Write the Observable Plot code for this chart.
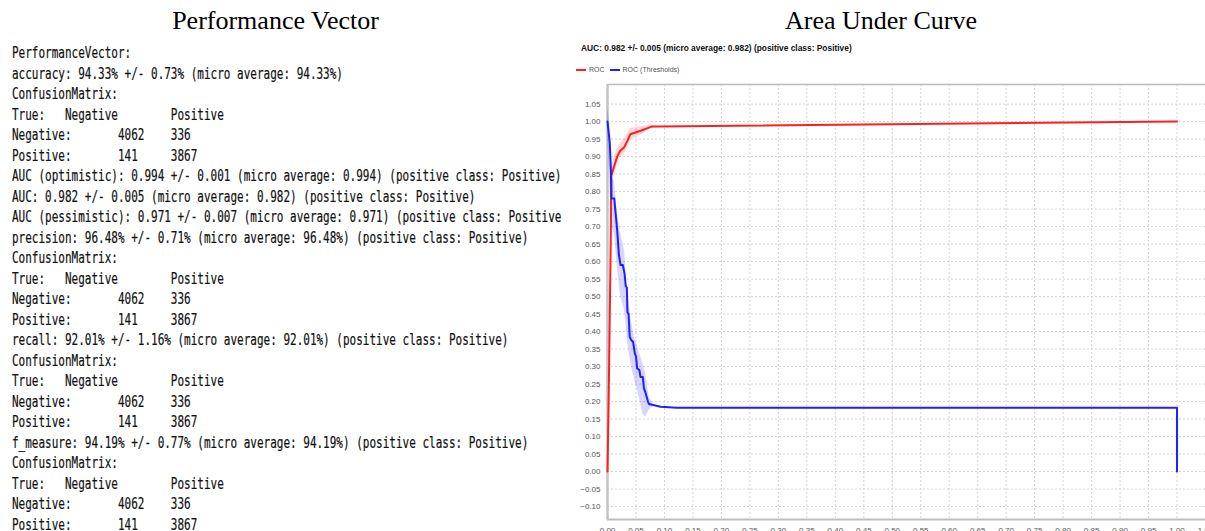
<!DOCTYPE html>
<html><head><meta charset="utf-8">
<script src="https://cdn.jsdelivr.net/npm/d3@7"></script>
<script src="https://cdn.jsdelivr.net/npm/@observablehq/plot@0.6"></script>
<style>
html,body{margin:0;padding:0;background:#fff;overflow:hidden;}
#root{position:relative;width:1205px;height:531px;overflow:hidden;background:#fff;}
.title{position:absolute;top:8px;font-family:"Liberation Serif","Times New Roman",serif;font-size:26px;line-height:26px;color:#000;white-space:nowrap;transform:translateX(-50%);z-index:2;}
#perf{position:absolute;left:12px;top:43px;width:550px;height:488px;overflow:hidden;z-index:2;}
#perf pre{margin:0;font-family:"DejaVu Sans Mono",monospace;font-size:15px;line-height:20.5px;transform:scaleX(0.733);transform-origin:0 0;color:#111;-webkit-text-stroke:0.2px #111;}
#chart{position:absolute;left:570px;top:0;z-index:1;}
#auchead{position:absolute;left:581px;top:44px;font:bold 8.4px "Liberation Sans",Arial,sans-serif;line-height:9px;color:#111;white-space:nowrap;z-index:2;}
#legend{position:absolute;left:576px;top:66px;font:7px "Liberation Sans",Arial,sans-serif;line-height:8px;color:#555;white-space:nowrap;display:flex;align-items:center;z-index:2;}
#legend .sw{display:inline-block;width:10px;height:2px;margin-right:3px;}
#legend .item{display:flex;align-items:center;margin-right:5px;}
</style>
</head><body>
<div id="root">
  <div id="chart"></div>
  <div class="title" style="left:275.5px">Performance Vector</div>
  <div class="title" style="left:881px">Area Under Curve</div>
  <div id="perf"><pre id="perftext"></pre></div>
  <div id="auchead"></div>
  <div id="legend"></div>
</div>
<script>
// ---- Text panel ----
const perfLines = [
  "PerformanceVector:",
  "accuracy: 94.33% +/- 0.73% (micro average: 94.33%)",
  "ConfusionMatrix:",
  "True:   Negative        Positive",
  "Negative:       4062    336",
  "Positive:       141     3867",
  "AUC (optimistic): 0.994 +/- 0.001 (micro average: 0.994) (positive class: Positive)",
  "AUC: 0.982 +/- 0.005 (micro average: 0.982) (positive class: Positive)",
  "AUC (pessimistic): 0.971 +/- 0.007 (micro average: 0.971) (positive class: Positive)",
  "precision: 96.48% +/- 0.71% (micro average: 96.48%) (positive class: Positive)",
  "ConfusionMatrix:",
  "True:   Negative        Positive",
  "Negative:       4062    336",
  "Positive:       141     3867",
  "recall: 92.01% +/- 1.16% (micro average: 92.01%) (positive class: Positive)",
  "ConfusionMatrix:",
  "True:   Negative        Positive",
  "Negative:       4062    336",
  "Positive:       141     3867",
  "f_measure: 94.19% +/- 0.77% (micro average: 94.19%) (positive class: Positive)",
  "ConfusionMatrix:",
  "True:   Negative        Positive",
  "Negative:       4062    336",
  "Positive:       141     3867"
];
document.getElementById("perftext").textContent = perfLines.join("\n");

// ---- Chart header & legend ----
const chartHeader = "AUC: 0.982 +/- 0.005 (micro average: 0.982) (positive class: Positive)";
const seriesNames = ["ROC", "ROC (Thresholds)"];
const seriesColors = ["#ff1f1f", "#1f1fff"];
document.getElementById("auchead").textContent = chartHeader;
const leg = document.getElementById("legend");
seriesNames.forEach((n, i) => {
  const it = document.createElement("span"); it.className = "item";
  const sw = document.createElement("span"); sw.className = "sw"; sw.style.background = seriesColors[i];
  it.appendChild(sw); it.appendChild(document.createTextNode(n)); leg.appendChild(it);
});

// ---- ROC data ----
const rocX = [0, 0.002, 0.004, 0.006, 0.0065, 0.011, 0.017, 0.022, 0.029, 0.035, 0.040, 0.049, 0.058, 0.067, 0.076, 0.081, 0.09, 1.0];
const rocY = [0, 0.20, 0.45, 0.70, 0.845, 0.869, 0.90, 0.916, 0.926, 0.945, 0.964, 0.969, 0.974, 0.979, 0.985, 0.986, 0.986, 1.0];
const rocBandX  = [0.005, 0.008, 0.011, 0.017, 0.022, 0.029, 0.035, 0.040, 0.049, 0.058, 0.067, 0.076, 0.085, 0.09];
const rocBandLo = [0.76, 0.80, 0.84, 0.875, 0.895, 0.905, 0.925, 0.945, 0.955, 0.962, 0.970, 0.980, 0.983, 0.985];
const rocBandHi = [0.84, 0.88, 0.89, 0.925, 0.935, 0.95, 0.965, 0.98, 0.983, 0.985, 0.988, 0.99, 0.988, 0.986];

const thrX = [0, 0.002, 0.004, 0.006, 0.007, 0.012, 0.013, 0.017, 0.020, 0.023, 0.027, 0.030, 0.032, 0.034, 0.035, 0.037, 0.039, 0.042, 0.045, 0.048, 0.050, 0.052, 0.056, 0.058, 0.062, 0.064, 0.067, 0.071, 0.073, 0.093, 0.122, 1.0, 1.0];
const thrY = [1.0, 0.97, 0.94, 0.86, 0.78, 0.78, 0.76, 0.69, 0.62, 0.59, 0.59, 0.565, 0.53, 0.525, 0.455, 0.45, 0.385, 0.375, 0.37, 0.337, 0.33, 0.295, 0.29, 0.27, 0.27, 0.238, 0.224, 0.20, 0.193, 0.185, 0.182, 0.182, 0.0];
const thrBandX  = [0, 0.004, 0.007, 0.012, 0.017, 0.023, 0.030, 0.035, 0.042, 0.048, 0.056, 0.062, 0.067, 0.073, 0.08];
const thrBandLo = [0.95, 0.84, 0.70, 0.68, 0.59, 0.50, 0.46, 0.37, 0.30, 0.26, 0.21, 0.165, 0.155, 0.175, 0.185];
const thrBandHi = [1.04, 1.0, 0.84, 0.83, 0.74, 0.68, 0.63, 0.52, 0.43, 0.38, 0.34, 0.31, 0.28, 0.215, 0.19];

const xTicks = [0, 0.05, 0.10, 0.15, 0.20, 0.25, 0.30, 0.35, 0.40, 0.45, 0.50, 0.55, 0.60, 0.65, 0.70, 0.75, 0.80, 0.85, 0.90, 0.95, 1.00, 1.05];
const yTicks = [-0.10, -0.05, 0, 0.05, 0.10, 0.15, 0.20, 0.25, 0.30, 0.35, 0.40, 0.45, 0.50, 0.55, 0.60, 0.65, 0.70, 0.75, 0.80, 0.85, 0.90, 0.95, 1.00, 1.05];
const xDomain = [0, 1.05];
const yDomain = [-0.137, 1.106];

const zip = (xs, ys) => xs.map((x, i) => ({x, y: ys[i]}));
const band = (xs, lo, hi) => xs.map((x, i) => ({x, lo: lo[i], hi: hi[i]}));

const chart = Plot.plot({
  width: 635,
  height: 531,
  marginLeft: 37,
  marginRight: 0,
  marginTop: 84,
  marginBottom: 12,
  style: {fontFamily: "'Liberation Sans', Arial, sans-serif", fontSize: "8px", color: "#555", background: "#fff"},
  x: {domain: xDomain, axis: null},
  y: {domain: yDomain, axis: null},
  marks: [
    Plot.gridX(xTicks, {stroke: "#d4d4d4", strokeOpacity: 1, strokeDasharray: "2,2"}),
    Plot.gridY(yTicks, {stroke: "#d4d4d4", strokeOpacity: 1, strokeDasharray: "2,2"}),
    Plot.ruleY([yDomain[1]], {stroke: "#bdbdbd", strokeWidth: 1.5}),
    Plot.ruleY([yDomain[0]], {stroke: "#bdbdbd", strokeWidth: 2}),
    Plot.ruleX([xDomain[0]], {stroke: "#c4c4c4", strokeWidth: 2.5}),
    Plot.axisX(xTicks, {tickSize: 0, tickPadding: 8, tickFormat: d3.format(".2f"), label: null}),
    Plot.axisY(yTicks, {tickSize: 0, tickPadding: 7, tickFormat: d3.format(".2f"), label: null}),
    Plot.areaY(band(rocBandX, rocBandLo, rocBandHi), {x: "x", y1: "lo", y2: "hi", fill: "#ff0000", fillOpacity: 0.15}),
    Plot.areaY(band(thrBandX, thrBandLo, thrBandHi), {x: "x", y1: "lo", y2: "hi", fill: "#0000ff", fillOpacity: 0.16}),
    Plot.line(zip(rocX, rocY), {x: "x", y: "y", stroke: seriesColors[0], strokeWidth: 2}),
    Plot.line(zip(thrX, thrY), {x: "x", y: "y", stroke: seriesColors[1], strokeWidth: 2})
  ]
});
document.getElementById("chart").appendChild(chart);
</script>
</body></html>
